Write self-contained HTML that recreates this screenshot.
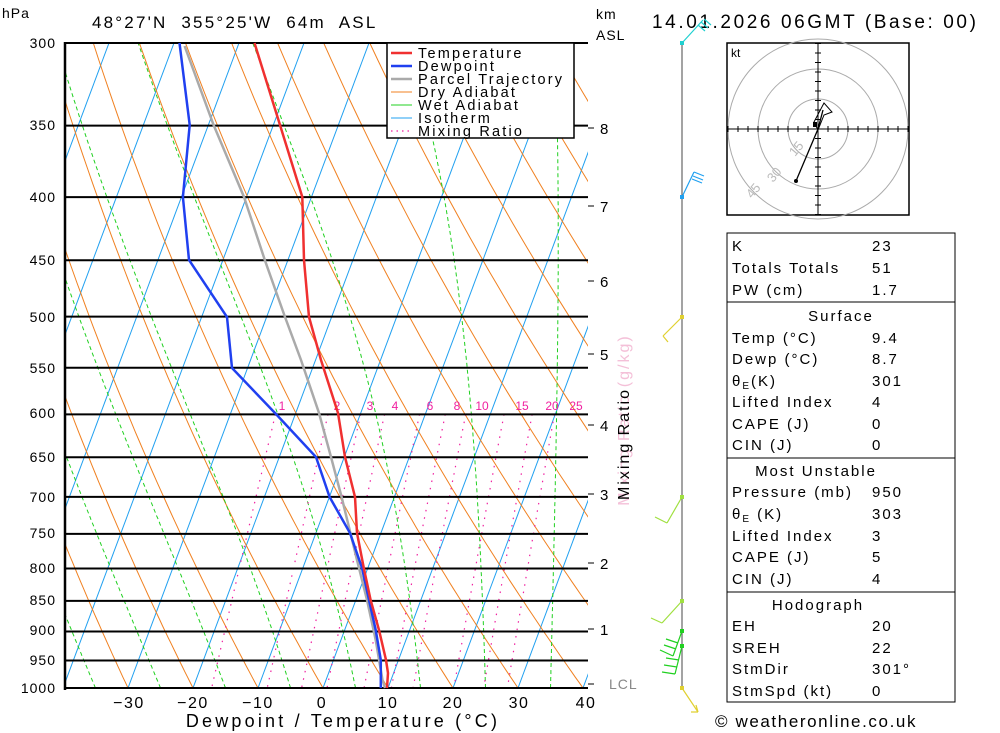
<!DOCTYPE html>
<html><head><meta charset="utf-8"><style>
html,body{margin:0;padding:0;background:#fff;}
svg{display:block;font-family:"Liberation Sans",sans-serif;}
</style></head><body>
<svg id="s" width="1000" height="733" viewBox="0 0 1000 733" xmlns="http://www.w3.org/2000/svg">
<defs><clipPath id="c"><rect x="65" y="43" width="523" height="645"/></clipPath></defs>
<g id="bg" clip-path="url(#c)"></g>
<g id="fg"></g>
<g font-size="14" fill="#000" text-anchor="end" letter-spacing="1">
<text x="56" y="48">300</text><text x="56" y="130">350</text><text x="56" y="202">400</text><text x="56" y="265">450</text><text x="56" y="322">500</text><text x="56" y="373">550</text><text x="56" y="418">600</text><text x="56" y="462">650</text><text x="56" y="502">700</text><text x="56" y="538">750</text><text x="56" y="573">800</text><text x="56" y="605">850</text><text x="56" y="635">900</text><text x="56" y="665">950</text><text x="56" y="693">1000</text>
</g>
<text x="2" y="18" font-size="14" letter-spacing="1">hPa</text>
<text x="92" y="28" font-size="17" letter-spacing="2.2" xml:space="preserve">48°27'N  355°25'W  64m  ASL</text>
<text x="596" y="19" font-size="14" letter-spacing="1">km</text><text x="596" y="40" font-size="14" letter-spacing="1">ASL</text>
<g font-size="16" text-anchor="middle" letter-spacing="1.5">
<text x="129" y="708">−30</text><text x="193" y="708">−20</text><text x="258" y="708">−10</text><text x="322" y="708">0</text><text x="388" y="708">10</text><text x="453" y="708">20</text><text x="519" y="708">30</text><text x="586" y="708">40</text>
</g>
<text x="343" y="727" font-size="18" text-anchor="middle" letter-spacing="3.2">Dewpoint / Temperature (°C)</text>
<g font-size="15">
<text x="600" y="134">8</text><text x="600" y="212">7</text><text x="600" y="287">6</text><text x="600" y="360">5</text><text x="600" y="431">4</text><text x="600" y="500">3</text><text x="600" y="569">2</text><text x="600" y="635">1</text><text x="609" y="689" fill="#888" font-size="14" letter-spacing="1">LCL</text>
</g>
<g stroke="#000" stroke-width="1">
<line x1="588" y1="128" x2="594" y2="128"/><line x1="588" y1="206" x2="594" y2="206"/><line x1="588" y1="281" x2="594" y2="281"/><line x1="588" y1="354" x2="594" y2="354"/><line x1="588" y1="425" x2="594" y2="425"/><line x1="588" y1="494" x2="594" y2="494"/><line x1="588" y1="563" x2="594" y2="563"/><line x1="588" y1="629" x2="594" y2="629"/><line x1="588" y1="684" x2="594" y2="684"/>
</g>
<text transform="translate(629,420) rotate(-90)" font-size="16" text-anchor="middle" fill="#f4c0d8" letter-spacing="2">Mixing Ratio (g/kg)</text>
<text transform="translate(629,444) rotate(-90)" font-size="16" text-anchor="middle" fill="#000" letter-spacing="2">Mixing Ratio</text>
<!-- legend -->
<g>
<rect x="387" y="43" width="187" height="95" fill="#fff" stroke="#000" stroke-width="1.5"/>
<g font-size="14.5" letter-spacing="2.2"><text x="418" y="58">Temperature</text><text x="418" y="71">Dewpoint</text><text x="418" y="84">Parcel Trajectory</text><text x="418" y="97">Dry Adiabat</text><text x="418" y="110">Wet Adiabat</text><text x="418" y="123">Isotherm</text><text x="418" y="136">Mixing Ratio</text></g>
<line x1="391" y1="53" x2="412" y2="53" stroke="#f03030" stroke-width="2.5"/>
<line x1="391" y1="66" x2="412" y2="66" stroke="#2040f0" stroke-width="2.5"/>
<line x1="391" y1="79" x2="412" y2="79" stroke="#aaa" stroke-width="2.5"/>
<line x1="391" y1="92" x2="412" y2="92" stroke="#f08020" stroke-width="1"/>
<line x1="391" y1="105" x2="412" y2="105" stroke="#20d020" stroke-width="1"/>
<line x1="391" y1="118" x2="412" y2="118" stroke="#20a0f0" stroke-width="1"/>
<line x1="391" y1="131" x2="412" y2="131" stroke="#f020a0" stroke-width="1.2" stroke-dasharray="1.5,4"/>
</g>
<!-- header right -->
<text x="652" y="28" font-size="19" letter-spacing="2.6">14.01.2026 06GMT (Base: 00)</text>
<!-- wind staff -->
<line x1="682" y1="43" x2="682" y2="688" stroke="#666" stroke-width="1.2"/>
<g stroke-width="1.2" fill="none">
<path d="M682 43 L703 20 M698 25 L705 31 M701 22 L708 28 M704 19 L711 25" stroke="#20d0d0"/>
<path d="M682 197 L694 172 M694 172 L704 176 M693 176 L703 180 M692 179 L702 183" stroke="#20a0f0"/>
<path d="M682 317 L663 336 M663 336 L668 342" stroke="#e0d030"/>
<path d="M682 497 L667 523 M667 523 L655 517" stroke="#a0e040"/>
<path d="M682 601 L662 623 M662 623 L651 618" stroke="#a0e040"/>
<path d="M682 631 L673 656 M673 656 L660 650 M676 649 L664 645 M678 643 L666 639" stroke="#20d020"/>
<path d="M682 646 L675 674 M675 674 L662 672 M677 667 L664 665 M679 660 L666 658" stroke="#20d020"/>
<path d="M682 688 L698 712 M698 712 L691 712 M698 712 L696 705" stroke="#e0d030"/>
</g>
<g>
<rect x="680" y="41" width="4" height="4" fill="#20d0d0"/><rect x="680" y="195" width="4" height="4" fill="#20a0f0"/><rect x="680" y="315" width="4" height="4" fill="#e0d030"/><rect x="680" y="495" width="4" height="4" fill="#a0e040"/><rect x="680" y="599" width="4" height="4" fill="#a0e040"/><rect x="680" y="629" width="4" height="4" fill="#20d020"/><rect x="680" y="644" width="4" height="4" fill="#20d020"/><rect x="680" y="686" width="4" height="4" fill="#e0d030"/>
</g>
<!-- hodograph -->
<g>
<rect x="727" y="43" width="182" height="172" fill="#fff" stroke="#000" stroke-width="1.5"/>
<circle cx="818" cy="129" r="30" fill="none" stroke="#aaa"/>
<circle cx="818" cy="129" r="60" fill="none" stroke="#aaa"/>
<circle cx="818" cy="129" r="90" fill="none" stroke="#aaa"/>
<line x1="727" y1="129" x2="909" y2="129" stroke="#000"/><line x1="818" y1="43" x2="818" y2="215" stroke="#000"/>
<g id="ht" stroke="#000"></g>
<text x="731" y="57" font-size="12">kt</text>
<g fill="#bbb" font-size="13"><text transform="translate(795,157) rotate(-50)">15</text><text transform="translate(773,183) rotate(-50)">30</text><text transform="translate(752,199) rotate(-50)">45</text></g>
<polyline points="796,181 818,129 823,110" fill="none" stroke="#000" stroke-width="1.3"/>
<path d="M814 122 L824 103 L832 112 L824 115 L818 130 Z" fill="none" stroke="#000"/>
<circle cx="796" cy="181" r="2" fill="#000"/><rect x="813" y="122" width="4" height="5"/>
</g>
<!-- table -->
<g font-size="15" letter-spacing="2">
<rect x="727" y="233" width="228" height="469" fill="none" stroke="#000" stroke-width="1"/>
<line x1="727" y1="302" x2="955" y2="302" stroke="#000"/><line x1="727" y1="458" x2="955" y2="458" stroke="#000"/><line x1="727" y1="592" x2="955" y2="592" stroke="#000"/>
<text x="732" y="251">K</text><text x="872" y="251">23</text>
<text x="732" y="273">Totals Totals</text><text x="872" y="273">51</text>
<text x="732" y="295">PW (cm)</text><text x="872" y="295">1.7</text>
<text x="841" y="321" text-anchor="middle">Surface</text>
<text x="732" y="343">Temp (°C)</text><text x="872" y="343">9.4</text>
<text x="732" y="364">Dewp (°C)</text><text x="872" y="364">8.7</text>
<text x="732" y="386">θ<tspan font-size="10" dy="3">E</tspan><tspan dy="-3">(K)</tspan></text><text x="872" y="386">301</text>
<text x="732" y="407">Lifted Index</text><text x="872" y="407">4</text>
<text x="732" y="429">CAPE (J)</text><text x="872" y="429">0</text>
<text x="732" y="450">CIN (J)</text><text x="872" y="450">0</text>
<text x="816" y="476" text-anchor="middle">Most Unstable</text>
<text x="732" y="497">Pressure (mb)</text><text x="872" y="497">950</text>
<text x="732" y="519">θ<tspan font-size="10" dy="3">E</tspan><tspan dy="-3"> (K)</tspan></text><text x="872" y="519">303</text>
<text x="732" y="541">Lifted Index</text><text x="872" y="541">3</text>
<text x="732" y="562">CAPE (J)</text><text x="872" y="562">5</text>
<text x="732" y="584">CIN (J)</text><text x="872" y="584">4</text>
<text x="818" y="610" text-anchor="middle">Hodograph</text>
<text x="732" y="631">EH</text><text x="872" y="631">20</text>
<text x="732" y="653">SREH</text><text x="872" y="653">22</text>
<text x="732" y="674">StmDir</text><text x="872" y="674">301°</text>
<text x="732" y="696">StmSpd (kt)</text><text x="872" y="696">0</text>
</g>
<text x="715" y="727" font-size="17" letter-spacing="1.6">© weatheronline.co.uk</text>
</svg>
<script>
(function(){
var NS="http://www.w3.org/2000/svg";
function Y(p){return 43+645*Math.log(p/300)/Math.log(10/3);}
function X(T,p){return 323+6.5*T+241*(688-Y(p))/645;}
function add(g,tag,at){var e=document.createElementNS(NS,tag);for(var k in at)e.setAttribute(k,at[k]);g.appendChild(e);return e;}
var bg=document.getElementById('bg'),fg=document.getElementById('fg');
function pl(g,pts,st){return add(g,'polyline',Object.assign({points:pts.map(function(a){return a[0].toFixed(1)+','+a[1].toFixed(1)}).join(' '),fill:'none'},st));}
var T,p,pts;
for(T=-110;T<=50;T+=10){pl(bg,[[X(T,1000),Y(1000)],[X(T,300),Y(300)]],{stroke:'#20a0f0','stroke-width':1});}
for(var th=-60;th<=220;th+=10){pts=[];for(p=1000;p>=300;p-=10){T=(th+273.15)*Math.pow(p/1000,0.2857)-273.15;pts.push([X(T,p),Y(p)]);}pl(bg,pts,{stroke:'#f08020','stroke-width':1});}
function es(t){return 6.112*Math.exp(17.67*t/(t+243.5));}
for(var t0=-35;t0<=45;t0+=10){pts=[];var Tk=t0+273.15;for(p=1000;p>=300;p-=2){var tc=Tk-273.15;pts.push([X(tc,p),Y(p)]);var e=es(tc),rs=0.622*e/(p-e);var d=(287*Tk+2.5e6*rs)/(p*(1004+2.5e6*2.5e6*rs*0.622/(287*Tk*Tk)));Tk-=d*2;}pl(bg,pts,{stroke:'#20d020','stroke-width':1,'stroke-dasharray':'4,3'});}
[1,2,3,4,6,8,10,15,20,25].forEach(function(w){pts=[];for(p=600;p<=1000;p+=10){var e=w/1000*p/(0.622+w/1000),l=Math.log(e/6.112),td=243.5*l/(17.67-l);pts.push([X(td,p),Y(p)]);}pl(bg,pts,{stroke:'#f020a0','stroke-width':1.2,'stroke-dasharray':'1.5,6'});});
[300,350,400,450,500,550,600,650,700,750,800,850,900,950,1000].forEach(function(q){add(fg,'line',{x1:65,x2:588,y1:Y(q),y2:Y(q),stroke:'#000','stroke-width':2});});
add(fg,'line',{x1:65,x2:65,y1:42,y2:690,stroke:'#000','stroke-width':2.5});
var ml=[[1,282],[2,337],[3,370],[4,395],[6,430],[8,457],[10,482],[15,522],[20,552],[25,576]];
ml.forEach(function(m){var t=add(fg,'text',{x:m[1],y:410,'font-size':12,fill:'#f020a0','text-anchor':'middle'});t.textContent=m[0];});
var par=[[184.6,46],[213.6,125],[244,197],[264.8,260],[285,317],[301,360],[319,413],[331,457],[341.6,497],[357,560],[367,600],[375.7,640],[382.5,680],[385,688]];
var dew=[[179.5,43],[189.7,125],[182.9,197],[189,260],[227,317],[232,368],[275,413],[316,457],[329.6,497],[350,533],[362,568],[369,600],[375.7,630],[380.8,660],[380.8,688]];
var tmp=[[254.5,43],[280,125],[302.3,197],[304,260],[309,317],[321,360],[338,413],[345,457],[355,497],[357,533],[363.8,568],[370.6,600],[379,630],[386,660],[388,673],[387,688]];
pl(fg,par,{stroke:'#aaa','stroke-width':2.5});
pl(fg,dew,{stroke:'#2040f0','stroke-width':2.5});
pl(fg,tmp,{stroke:'#f03030','stroke-width':2.5});
var ht=document.getElementById('ht');
for(var i=-9;i<=9;i++){if(!i)continue;var d=i*10;add(ht,'line',{x1:818+d,x2:818+d,y1:126,y2:132});add(ht,'line',{x1:815,x2:821,y1:129+d*0.95,y2:129+d*0.95});}
})();
</script>
</body></html>
